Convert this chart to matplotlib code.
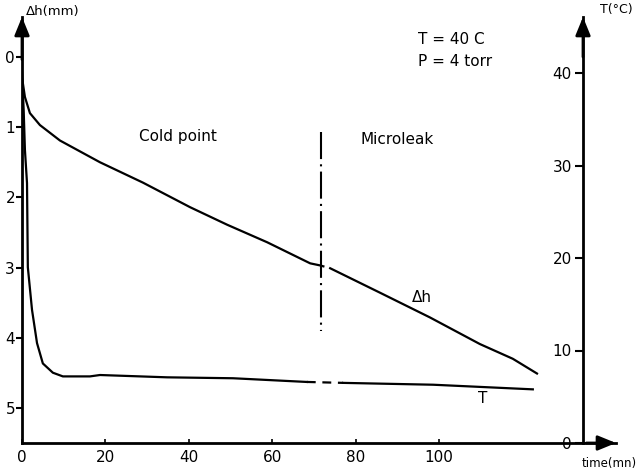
import matplotlib
matplotlib.use("Agg")
import matplotlib.pyplot as plt

# ---- data ----
time_ticks = [0, 20, 40, 60, 80, 100]
dh_ticks = [0, 1, 2, 3, 4, 5]
T_ticks = [0, 10, 20, 30, 40]

# delta h (mm) curve, before and after the microleak boundary
t_dh_a = [0, 0.2, 0.7, 1.9, 4.3, 9.1, 15.6, 18.7, 29.0, 40.3, 49.2, 58.8, 69.1, 71.5]
dh_a = [0.30, 0.37, 0.57, 0.80, 0.97, 1.19, 1.40, 1.50, 1.79, 2.14, 2.39, 2.64, 2.94, 2.97]
t_dh_gap = [71.5, 73.9]
dh_gap = [2.97, 3.01]
t_dh_b = [73.9, 85.9, 97.8, 109.8, 117.7, 123.5]
dh_b = [3.01, 3.36, 3.71, 4.09, 4.30, 4.51]

# temperature (C) curve
t_T_a = [0, 0.4, 0.7, 1.2, 1.4, 2.4, 3.6, 5.0, 7.4, 9.8, 16.3, 18.7, 34.8, 50.6, 68.3]
T_a = [40, 36, 31.7, 28.1, 19.0, 14.4, 10.8, 8.6, 7.6, 7.2, 7.2, 7.35, 7.1, 7.0, 6.6]
t_T_gap = [68.3, 77.0]
T_gap = [6.6, 6.5]
t_T_b = [77.0, 98.6, 122.5]
T_b = [6.5, 6.3, 5.8]

# boundary between regimes
t_boundary = 71.7
boundary_dh = [1.07, 3.9]

# ---- figure ----
W, H = 639, 474
fig = plt.figure(figsize=(W / 100, H / 100), dpi=100)
x0, x1 = 22, 616
y0, y1 = 443, 17
ax = fig.add_axes([x0 / W, (H - y0) / H, (x1 - x0) / W, (y0 - y1) / H])

px_per_t = 4.17
t_max = (x1 - x0) / px_per_t
t_right = (583 - x0) / px_per_t
ax.set_xlim(0, t_max)
ax.set_ylim(5.5, (y1 - 57) / 70.2)

ax2 = ax.twinx()
ax2.set_ylim(0, (y0 - y1) / 9.25)

lw_ax = 2.0
ax.spines["top"].set_visible(False)
ax2.spines["top"].set_visible(False)
ax.spines["right"].set_visible(False)
ax.spines["left"].set_linewidth(lw_ax)
ax.spines["bottom"].set_linewidth(lw_ax)
ax2.spines["left"].set_visible(False)
ax2.spines["bottom"].set_visible(False)
ax2.spines["right"].set_position(("data", t_right))
ax2.spines["right"].set_linewidth(lw_ax)

fs = 11
ax.set_xticks(time_ticks)
ax.set_xticklabels([str(v) for v in time_ticks], fontsize=fs)
ax.set_yticks(dh_ticks)
ax.set_yticklabels([str(v) for v in dh_ticks], fontsize=fs)
ax.tick_params(axis="x", direction="in", length=3, width=1.2, pad=5)
ax.tick_params(axis="y", direction="out", length=4, width=1.5, pad=1)
ax2.set_yticks(T_ticks)
ax2.set_yticklabels([str(v) for v in T_ticks], fontsize=fs)
ax2.tick_params(axis="y", direction="in", length=6, width=1.5, pad=-8)
for lab in ax2.get_yticklabels():
    lab.set_horizontalalignment("right")

# curves
lw = 1.6
ax.plot(t_dh_a, dh_a, color="black", lw=lw)
ax.plot(t_dh_gap, dh_gap, color="black", lw=lw, ls=(0, (2, 3)))
ax.plot(t_dh_b, dh_b, color="black", lw=lw)
ax2.plot(t_T_a, T_a, color="black", lw=lw)
ax2.plot(t_T_gap, T_gap, color="black", lw=lw, ls=(0, (4, 3)))
ax2.plot(t_T_b, T_b, color="black", lw=lw)
ax.plot([t_boundary, t_boundary], boundary_dh, color="black", lw=1.5,
        ls=(0, (13, 2.5, 1, 2.5)))

# arrows
arrow = dict(arrowstyle="-|>,head_length=1.1,head_width=0.45", color="black",
             lw=lw_ax, shrinkA=0, shrinkB=0)
ax.annotate("", xy=(0, 1.0), xytext=(0, 0.9), xycoords="axes fraction",
            arrowprops=arrow, annotation_clip=False)
ax.annotate("", xy=(t_right, ax.get_ylim()[1]), xytext=(t_right, 0.0),
            xycoords="data", arrowprops=arrow, annotation_clip=False)
ax.annotate("", xy=(1.0, 0), xytext=(0.95, 0), xycoords="axes fraction",
            arrowprops=arrow, annotation_clip=False)

# texts
ax.text(37.4, 1.14, "Cold point", fontsize=fs, ha="center", va="center")
ax.text(90, 1.18, "Microleak", fontsize=fs, ha="center", va="center")
ax.text(96, 3.43, "Δh", fontsize=fs, ha="center", va="center")
ax.text(110.5, 4.86, "T", fontsize=fs, ha="center", va="center")
fig.text(418 / W, 1 - 40 / H, "T = 40 C", fontsize=fs, ha="left", va="center")
fig.text(418 / W, 1 - 61 / H, "P = 4 torr", fontsize=fs, ha="left", va="center")
fig.text(26 / W, 1 - 12 / H, "Δh(mm)", fontsize=9.5, ha="left", va="center")
fig.text(600 / W, 1 - 10 / H, "T(°C)", fontsize=9, ha="left", va="center")
fig.text(637 / W, 1 - 464 / H, "time(mn)", fontsize=8.5, ha="right", va="center")

fig.savefig("out.png", dpi=100)
